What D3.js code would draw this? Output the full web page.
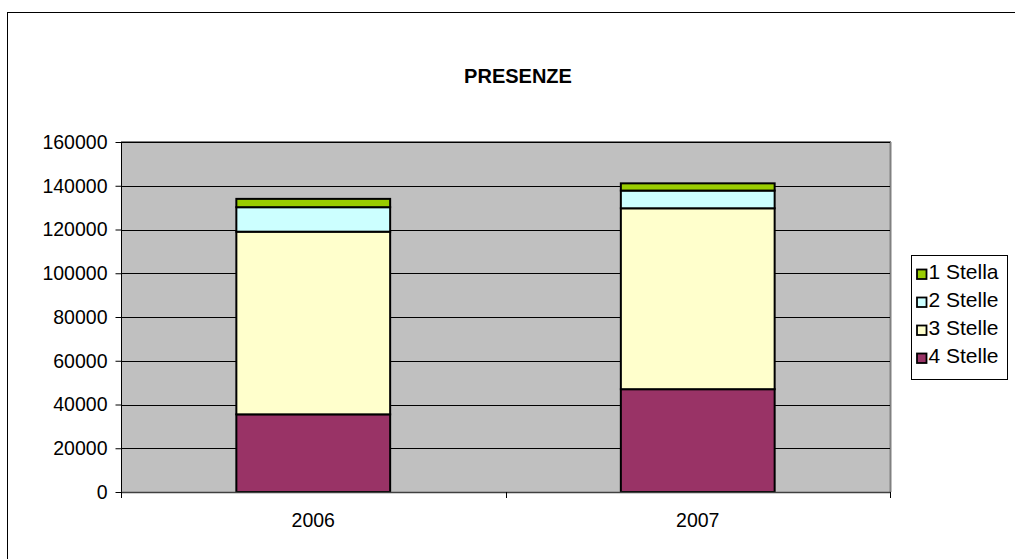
<!DOCTYPE html>
<html><head><meta charset="utf-8">
<script src="https://cdn.jsdelivr.net/npm/d3@7"></script>
<style>body{margin:0;background:#fff}svg{display:block;font-family:"Liberation Sans",Arial,sans-serif}</style>
</head><body>
<svg id="c" width="1015" height="559"></svg>
<script>
const categories = ["2006", "2007"];
const seriesNames = ["4 Stelle", "3 Stelle", "2 Stelle", "1 Stella"];
const stelle4 = [35500, 47000];
const stelle3 = [83500, 82700];
const stelle2 = [11200, 8100];
const stella1 = [3800, 3300];
const yTicks = [0, 20000, 40000, 60000, 80000, 100000, 120000, 140000, 160000];
const colors = ["#993366", "#ffffcc", "#ccffff", "#99cc00"];

const FS = 19.5;
const svg = d3.select("#c");
svg.append("rect").attr("x", 7.5).attr("y", 12.5).attr("width", 1030).attr("height", 570)
  .attr("fill", "#fff").attr("stroke", "#000").attr("stroke-width", 1);

const L = 121, R = 890, T = 142, B = 492;
const x = d3.scaleBand().domain(categories).range([L, R]).paddingInner(0.6).paddingOuter(0.3);
const y = d3.scaleLinear().domain([0, 160000]).range([B, T]);

svg.append("rect").attr("x", L).attr("y", T).attr("width", R - L).attr("height", B - T).attr("fill", "#c0c0c0");
svg.append("line").attr("x1", R + 0.5).attr("x2", R + 0.5).attr("y1", T).attr("y2", B).attr("stroke", "#808080").attr("stroke-width", 2);
svg.append("line").attr("x1", L).attr("x2", R + 1).attr("y1", T - 0.5).attr("y2", T - 0.5).attr("stroke", "#808080").attr("stroke-width", 1);

svg.append("g").selectAll("line").data(yTicks.filter(d => d > 0)).join("line")
  .attr("x1", L).attr("x2", R).attr("y1", d => Math.round(y(d)) + 0.5).attr("y2", d => Math.round(y(d)) + 0.5)
  .attr("stroke", "#000").attr("stroke-width", 1);

const data = categories.map((c, i) => ({cat: c, "4 Stelle": stelle4[i], "3 Stelle": stelle3[i], "2 Stelle": stelle2[i], "1 Stella": stella1[i]}));
const stack = d3.stack().keys(seriesNames)(data);
const color = d3.scaleOrdinal().domain(seriesNames).range(colors);

svg.append("g").selectAll("g").data(stack).join("g").attr("fill", d => color(d.key))
  .selectAll("rect").data(d => d).join("rect")
  .attr("x", d => x(d.data.cat)).attr("width", x.bandwidth())
  .attr("y", d => y(d[1])).attr("height", d => y(d[0]) - y(d[1]))
  .attr("stroke", "#000").attr("stroke-width", 2);

// axes
const yAxis = d3.axisLeft(y).tickValues(yTicks).tickSize(6).tickPadding(8).tickFormat(d3.format("d"));
const gy = svg.append("g").attr("transform", `translate(${L + 0.5},0)`).call(yAxis);
gy.select(".domain").attr("stroke", "#000").attr("d", `M0,${T}V${B}`);
gy.selectAll("text").attr("font-size", FS).attr("fill", "#000").attr("font-family", "Liberation Sans, Arial, sans-serif");

const xb = d3.scaleLinear().domain([0, 2]).range([L, R]);
svg.append("line").attr("x1", L).attr("x2", R + 1).attr("y1", B + 0.5).attr("y2", B + 0.5).attr("stroke", "#404040").attr("stroke-width", 1.5);
svg.append("g").selectAll("line").data([0, 1, 2]).join("line")
  .attr("x1", d => Math.round(xb(d)) + 0.5).attr("x2", d => Math.round(xb(d)) + 0.5)
  .attr("y1", B).attr("y2", B + 6).attr("stroke", "#000");
svg.append("g").selectAll("text").data(categories).join("text")
  .attr("x", d => x(d) + x.bandwidth() / 2).attr("y", 527).attr("text-anchor", "middle")
  .attr("font-size", FS).text(d => d);

svg.append("text").attr("x", 518).attr("y", 83).attr("text-anchor", "middle")
  .attr("font-size", 20).attr("font-weight", "bold").text("PRESENZE");

// legend
const lg = svg.append("g");
lg.append("rect").attr("x", 911.5).attr("y", 255.5).attr("width", 96).attr("height", 124).attr("fill", "#fff").attr("stroke", "#000");
const legendOrder = seriesNames.slice().reverse();
const items = lg.selectAll("g").data(legendOrder).join("g")
  .attr("transform", (d, i) => `translate(0,${274 + i * 28})`);
items.append("rect").attr("x", 917).attr("y", -4.5).attr("width", 9.5).attr("height", 9.5)
  .attr("fill", d => color(d)).attr("stroke", "#000").attr("stroke-width", 1.8);
items.append("text").attr("x", 928.5).attr("y", 4.5).attr("font-size", 21).text(d => d);
</script>
</body></html>
